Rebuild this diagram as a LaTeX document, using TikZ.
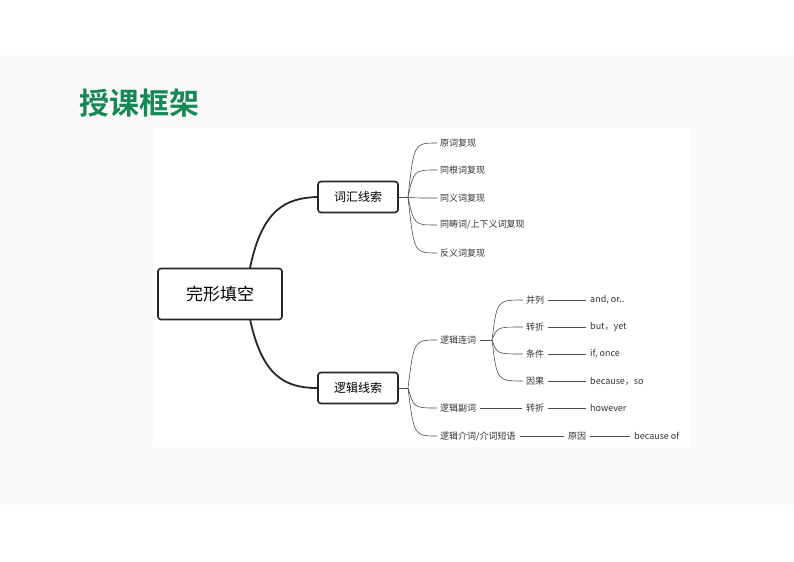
\documentclass[tikz,border=0pt]{standalone}
\usepackage{fontspec}
\setmainfont{Noto Sans CJK SC}
\newfontfamily\boldcjk{Noto Sans CJK SC Bold}
\begin{document}
\begin{tikzpicture}[x=1bp,y=-1bp,
  box/.style={draw=black!85,line width=1.6bp,rounded corners=3bp,fill=white,inner sep=0pt},
  thick/.style={line width=1.8bp,black!85},
  br/.style={line width=0.6bp,black!70},
  leaf/.style={anchor=west,inner sep=0pt,font=\fontsize{9bp}{11bp}\selectfont,text=black!80}]
\useasboundingbox (0,0) rectangle (794,562);
\fill[gray!4] (0,55) rectangle (794,505);
\fill[white] (153,128) rectangle (690,447);
\node[anchor=west,text={rgb,255:red,22;green,135;blue,85},font=\boldcjk\fontsize{30bp}{34bp}\selectfont] (title) at (76,103) {授课框架};
\node[box,minimum width=124bp,minimum height=51bp,font=\fontsize{17bp}{20bp}\selectfont] (root) at (220,294) {完形填空};
\node[box,minimum width=80bp,minimum height=31bp,font=\fontsize{12bp}{14bp}\selectfont] (v) at (358,197) {词汇线索};
\node[box,minimum width=80bp,minimum height=31bp,font=\fontsize{12bp}{14bp}\selectfont] (l) at (358,388) {逻辑线索};
\draw[thick] (250,268) .. controls (262,210) and (285,198) .. (v.west);
\draw[thick] (250,319) .. controls (262,376) and (285,388) .. (l.west);
% vocabulary leaves
\coordinate (vo) at (408,197);
\draw[br] (v.east) -- (vo);
\foreach \t/\y [count=\i] in {{原词复现}/143,{同根词复现}/170,{同义词复现}/198,{同畴词/上下义词复现}/225,{反义词复现}/253}{
  \node[leaf] (va\i) at (440,\y) {\t};
  \draw[br] (vo) .. controls (414,\y) .. ([xshift=-3bp]va\i.west);
}
% logic
\coordinate (lo) at (408,388);
\draw[br] (l.east) -- (lo);
\node[leaf] (c1) at (440,340) {逻辑连词};
\node[leaf] (c2) at (440,408) {逻辑副词};
\node[leaf] (c3) at (440,436) {{逻辑介词/介词短语}};
\foreach \n/\y in {c1/340,c2/408,c3/436}{ \draw[br] (lo) .. controls (414,\y) .. ([xshift=-3bp]\n.west); }
\coordinate (co) at (492,340);
\draw[br] ([xshift=4bp]c1.east) -- (co);
\foreach \a/\b/\y [count=\i] in {并列/{and, or..}/300,转折/{but，yet}/327,条件/{if, once}/354,因果/{because，so}/381}{
  \node[leaf] (k\i) at (526,\y) {\a};
  \node[leaf] (e\i) at (590,\y) {\b};
  \draw[br] (co) .. controls (497,\y) .. ([xshift=-3bp]k\i.west);
  \draw[br] ([xshift=4bp]k\i.east) -- ([xshift=-4bp]e\i.west);
}
\node[leaf] (k5) at (526,408) {转折};
\node[leaf] (e5) at (590,408) {however};
\draw[br] ([xshift=4bp]c2.east) -- ([xshift=-4bp]k5.west);
\draw[br] ([xshift=4bp]k5.east) -- ([xshift=-4bp]e5.west);
\node[leaf] (k6) at (568,436) {原因};
\node[leaf] (e6) at (634,436) {because of};
\draw[br] ([xshift=4bp]c3.east) -- ([xshift=-4bp]k6.west);
\draw[br] ([xshift=4bp]k6.east) -- ([xshift=-4bp]e6.west);
\end{tikzpicture}
\end{document}
